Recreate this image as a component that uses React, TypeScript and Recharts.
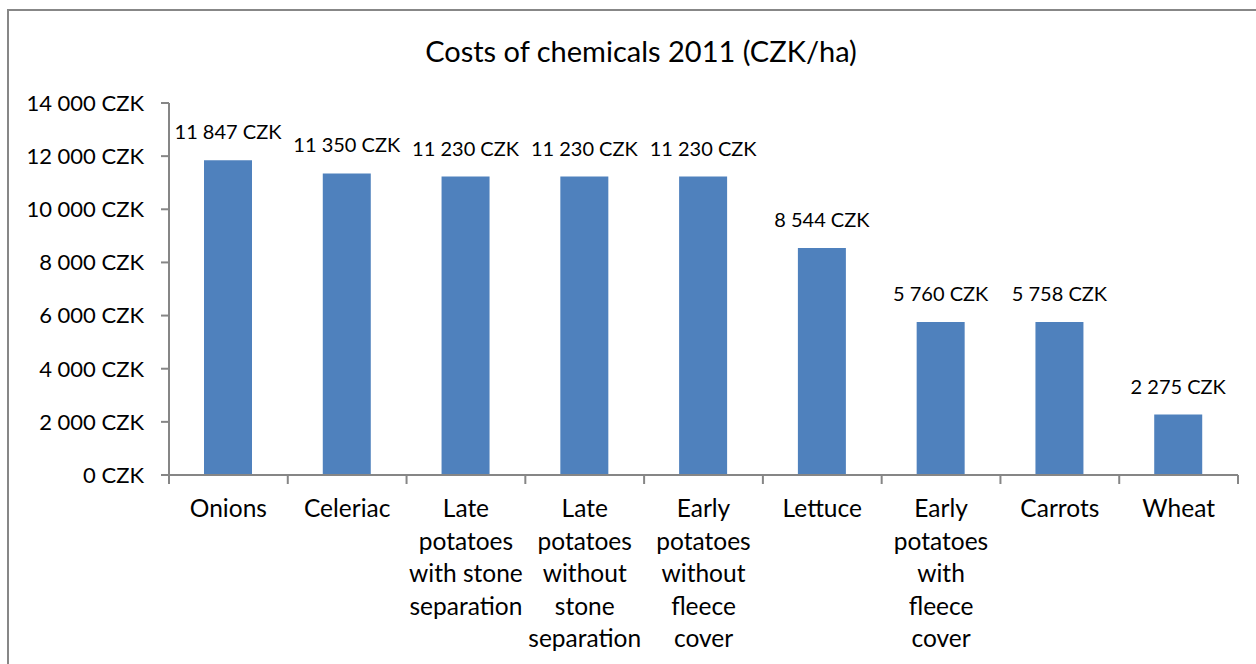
import React from 'react';
import { BarChart, Bar, XAxis, YAxis, LabelList } from 'recharts';

const categories = [
  'Onions',
  'Celeriac',
  'Late\npotatoes\nwith stone\nseparation',
  'Late\npotatoes\nwithout\nstone\nseparation',
  'Early\npotatoes\nwithout\nfleece\ncover',
  'Lettuce',
  'Early\npotatoes\nwith\nfleece\ncover',
  'Carrots',
  'Wheat',
];
const costs = [11847, 11350, 11230, 11230, 11230, 8544, 5760, 5758, 2275];
const yTicks = [0, 2000, 4000, 6000, 8000, 10000, 12000, 14000];
const title = 'Costs of chemicals 2011 (CZK/ha)';

const data = categories.map((c, i) => ({ name: c, value: costs[i] }));

const FONT = 'Lato, "Open Sans", sans-serif';
const AXIS = '#868686';

const fmt = (v: number) => {
  const s = Math.round(v).toString();
  return s.replace(/\B(?=(\d{3})+(?!\d))/g, ' ') + ' CZK';
};

const N = categories.length;
const PLOT_LEFT = 169;
const PLOT_RIGHT = 1238;
const BAND = (PLOT_RIGHT - PLOT_LEFT) / N;

const CatTick = (props: any) => {
  const { x, y, payload, index } = props;
  const lines = String(payload.value).split('\n');
  const half = payload && typeof payload.offset === 'number' && payload.offset > 0 ? payload.offset : BAND / 2;
  return (
    <g>
      <line x1={x - half} y1={y} x2={x - half} y2={y + 9} stroke={AXIS} strokeWidth={2} />
      {index === N - 1 && (
        <line x1={x + half} y1={y} x2={x + half} y2={y + 9} stroke={AXIS} strokeWidth={2} />
      )}
      {lines.map((l, i) => (
        <text key={i} x={x} y={y + 42 + i * 32.5} textAnchor="middle" fontFamily={FONT} fontSize={24.5} fill="#000">
          {l}
        </text>
      ))}
    </g>
  );
};

const ValueLabel = (props: any) => {
  const { x, y, width, value } = props;
  return (
    <text x={x + width / 2} y={y - 21} textAnchor="middle" fontFamily={FONT} fontSize={20} fill="#000">
      {fmt(value)}
    </text>
  );
};

export default function App() {
  return (
    <div style={{ position: 'fixed', left: 0, top: 0, width: 1256, height: 664, overflow: 'hidden', background: '#fff' }}>
      <div
        style={{
          position: 'absolute',
          left: 7,
          top: 9,
          width: 1300,
          height: 700,
          borderLeft: '2px solid #878787',
          borderTop: '2px solid #878787',
          boxSizing: 'border-box',
        }}
      />
      <div style={{ position: 'absolute', left: 0, top: 0 }}>
        <BarChart
          width={1256}
          height={664}
          data={data}
          margin={{ top: 103, right: 1256 - PLOT_RIGHT, bottom: 0, left: 0 }}
        >
          <text x={641} y={62} textAnchor="middle" fontFamily={FONT} fontSize={29} fill="#000">
            {title}
          </text>
          <XAxis
            dataKey="name"
            interval={0}
            height={664 - 475}
            axisLine={{ stroke: AXIS, strokeWidth: 2 }}
            tickLine={false}
            tickSize={0}
            tickMargin={0}
            tick={<CatTick />}
          />
          <YAxis
            width={PLOT_LEFT}
            domain={[0, 14000]}
            ticks={yTicks}
            interval={0}
            tickFormatter={fmt}
            axisLine={{ stroke: AXIS, strokeWidth: 2 }}
            tickLine={{ stroke: AXIS, strokeWidth: 2 }}
            tickSize={8}
            tickMargin={17}
            tick={{ fontFamily: FONT, fontSize: 22, fill: '#000' }}
          />
          <Bar dataKey="value" fill="#4F81BD" barSize={48} isAnimationActive={false}>
            <LabelList dataKey="value" content={<ValueLabel />} />
          </Bar>
        </BarChart>
      </div>
    </div>
  );
}
